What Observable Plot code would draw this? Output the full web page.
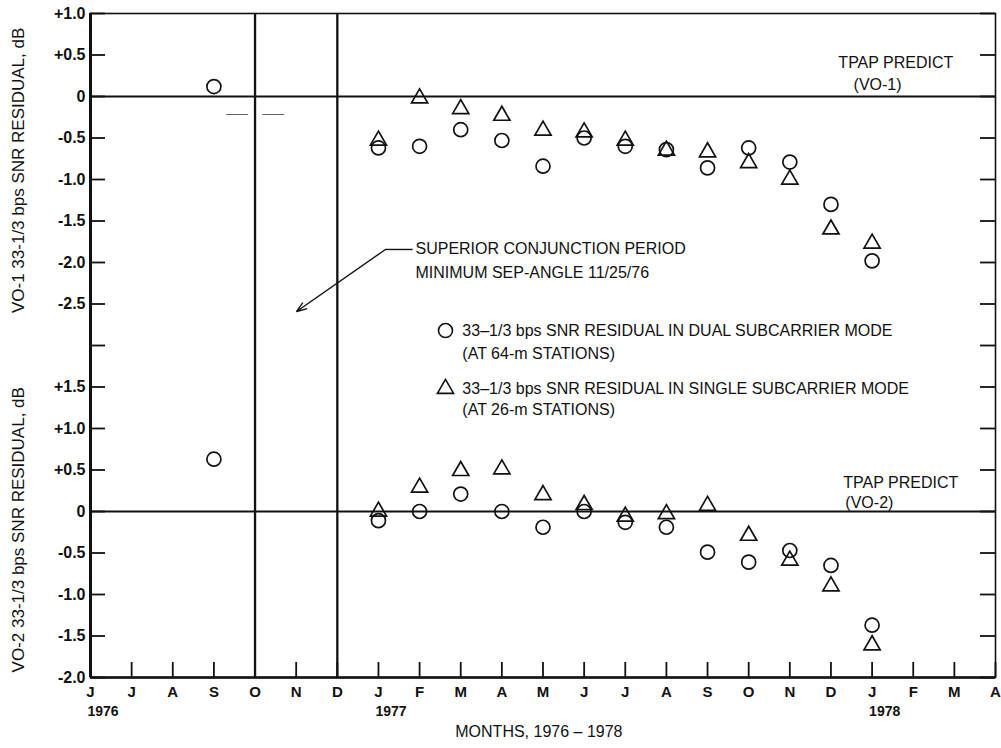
<!DOCTYPE html>
<html>
<head>
<meta charset="utf-8">
<script src="https://cdn.jsdelivr.net/npm/d3@7"></script>
<script src="https://cdn.jsdelivr.net/npm/@observablehq/plot@0.6"></script>
<style>
  html, body { margin: 0; padding: 0; background: #fff; }
  #chart svg { display: block; }
</style>
</head>
<body>
<div id="chart"></div>
<script>
// Month axis: index 0 = June 1976 ... index 22 = April 1978
const monthLetters = ["J","J","A","S","O","N","D","J","F","M","A","M","J","J","A","S","O","N","D","J","F","M","A"];
const yearLabels = ["1976", "1977", "1978"];
const yearStartMonth = [0, 7, 19];

// Superior conjunction period boundaries (October and December 1976)
const conjunctionBounds = [4, 6];

// VO-1 33-1/3 bps SNR residuals, dB
const vo1DualMonth = [3, 7, 8, 9, 10, 11, 12, 13, 14, 15, 16, 17, 18, 19];
const vo1Dual      = [0.12, -0.62, -0.60, -0.40, -0.53, -0.84, -0.50, -0.60, -0.64, -0.86, -0.62, -0.79, -1.30, -1.98];
const vo1SingleMonth = [7, 8, 9, 10, 11, 12, 13, 14, 15, 16, 17, 18, 19];
const vo1Single      = [-0.53, -0.02, -0.15, -0.23, -0.41, -0.43, -0.53, -0.65, -0.67, -0.80, -1.00, -1.60, -1.77];

// VO-2 33-1/3 bps SNR residuals, dB
const vo2DualMonth = [3, 7, 8, 9, 10, 11, 12, 13, 14, 15, 16, 17, 18, 19];
const vo2Dual      = [0.63, -0.11, 0.0, 0.21, 0.0, -0.19, 0.0, -0.13, -0.19, -0.49, -0.61, -0.47, -0.65, -1.37];
const vo2SingleMonth = [7, 8, 9, 10, 11, 12, 13, 14, 15, 16, 17, 18, 19];
const vo2Single      = [0.0, 0.29, 0.49, 0.51, 0.20, 0.08, -0.06, -0.03, 0.07, -0.29, -0.59, -0.90, -1.61];

// Vertical tick labels for each band
const vo1TickValues = [1.0, 0.5, 0, -0.5, -1.0, -1.5, -2.0, -2.5];
const vo1TickLabels = ["+1.0", "+0.5", "0", "-0.5", "-1.0", "-1.5", "-2.0", "-2.5"];
const vo2TickValues = [1.5, 1.0, 0.5, 0, -0.5, -1.0, -1.5, -2.0];
const vo2TickLabels = ["+1.5", "+1.0", "+0.5", "0", "-0.5", "-1.0", "-1.5", "-2.0"];
const spacerTick = -3.0;

// Text
const vo1Title = "VO-1 33-1/3 bps SNR RESIDUAL, dB";
const vo2Title = "VO-2 33-1/3 bps SNR RESIDUAL, dB";
const xTitle = "MONTHS, 1976 \u2013 1978";
const conjunctionNote = ["SUPERIOR CONJUNCTION PERIOD", "MINIMUM SEP-ANGLE 11/25/76"];
const predictNote = ["TPAP PREDICT", "(VO-1)", "(VO-2)"];
const legendText = [
  ["33\u20131/3 bps SNR RESIDUAL IN DUAL SUBCARRIER MODE", "(AT 64-m STATIONS)"],
  ["33\u20131/3 bps SNR RESIDUAL IN SINGLE SUBCARRIER MODE", "(AT 26-m STATIONS)"]
];

// Both vehicles share one vertical axis: the VO-2 band sits 5 dB below VO-1.
const vo2Offset = -5;
const toAxis = (v, panel) => panel === "VO-2" ? v + vo2Offset : v;

const rows = (months, values, panel, mode) =>
  months.map((m, i) => ({month: m, value: values[i], panel, mode}));
const points = [
  ...rows(vo1DualMonth, vo1Dual, "VO-1", "dual"),
  ...rows(vo1SingleMonth, vo1Single, "VO-1", "single"),
  ...rows(vo2DualMonth, vo2Dual, "VO-2", "dual"),
  ...rows(vo2SingleMonth, vo2Single, "VO-2", "single")
];

const yTicks = [
  ...vo1TickValues.map((v, i) => ({u: toAxis(v, "VO-1"), label: vo1TickLabels[i]})),
  {u: spacerTick, label: ""},
  ...vo2TickValues.map((v, i) => ({u: toAxis(v, "VO-2"), label: vo2TickLabels[i]}))
];
const yLabelOf = new Map(yTicks.map(t => [t.u, t.label]));
const yTickValues = yTicks.map(t => t.u);

const years = yearLabels.map((label, i) => ({month: yearStartMonth[i], label}));

const font = "'Liberation Sans', Arial, sans-serif";
const ink = "#111";
const monthSpan = 22;            // June 1976 .. April 1978
const tickReach = 0.365;         // inward tick length, in months (about 15 px)

const chart = Plot.plot({
  width: 1001,
  height: 748,
  marginLeft: 90,
  marginRight: 6,
  marginTop: 13,
  marginBottom: 71,
  style: {fontFamily: font, background: "#fff", color: ink},
  x: {domain: [0, monthSpan]},
  y: {domain: [-7, 1]},
  marks: [
    // plot frame, heavier along the two axes
    Plot.frame({stroke: ink, strokeWidth: 1.6}),
    Plot.ruleX([0], {stroke: ink, strokeWidth: 3}),
    Plot.ruleY([-7], {stroke: ink, strokeWidth: 2.6}),

    // superior conjunction period
    Plot.ruleX(conjunctionBounds, {stroke: ink, strokeWidth: 2.3}),

    // TPAP predicted levels (0 dB residual) for each vehicle
    Plot.ruleY([toAxis(0, "VO-1"), toAxis(0, "VO-2")], {stroke: ink, strokeWidth: 2}),
    Plot.ruleY([-0.217], {x1: 3.31, x2: 4.82, stroke: "#666", strokeWidth: 1, strokeDasharray: "22 14"}),

    // inward ticks on the left and right edges
    Plot.ruleY(yTickValues, {x1: 0, x2: tickReach, stroke: ink, strokeWidth: 1.8}),
    Plot.ruleY(yTickValues, {x1: monthSpan - tickReach, x2: monthSpan, stroke: ink, strokeWidth: 1.8}),

    // axes
    Plot.axisY(yTickValues, {
      anchor: "left", tickSize: 0, tickPadding: 5,
      tickFormat: d => yLabelOf.get(d), fontSize: 16, fontWeight: "bold", label: null
    }),
    Plot.axisX(d3.range(monthLetters.length), {
      anchor: "bottom", tickSize: -15, tickPadding: 24, strokeWidth: 1.8,
      tickFormat: i => monthLetters[i], fontSize: 15, fontWeight: "bold", label: null
    }),
    Plot.text(years, {x: "month", text: "label", frameAnchor: "bottom", dy: 38, dx: -3, textAnchor: "start", fontSize: 14, fontWeight: "bold"}),
    Plot.text([xTitle], {x: 10.9, frameAnchor: "bottom", dy: 59, text: d => d, fontSize: 16}),

    // vertical titles for the two bands
    Plot.text([{u: -0.89, label: vo1Title}, {u: -5.22, label: vo2Title}], {
      y: "u", text: "label", frameAnchor: "left", textAnchor: "middle", dx: -72, rotate: -90, fontSize: 17
    }),

    // residual measurements
    Plot.dot(points.filter(d => d.mode === "dual"), {
      x: "month", y: d => toAxis(d.value, d.panel), r: 7, fill: "none", stroke: ink, strokeWidth: 1.7
    }),
    Plot.dot(points.filter(d => d.mode === "single"), {
      x: "month", y: d => toAxis(d.value, d.panel), symbol: "triangle", r: 6, fill: "none", stroke: ink, strokeWidth: 1.7
    }),

    // TPAP predict labels
    Plot.text([predictNote[0], predictNote[1]], {
      x: [18.18, 18.55], y: [0.40, 0.145], text: d => d, textAnchor: "start", fontSize: 16
    }),
    Plot.text([predictNote[0], predictNote[2]], {
      x: [18.3, 18.35], y: [-4.66, -4.90], text: d => d, textAnchor: "start", fontSize: 16
    }),

    // superior conjunction callout
    Plot.text(conjunctionNote, {
      x: 7.9, y: [-1.83, -2.13], text: d => d, textAnchor: "start", fontSize: 16
    }),
    Plot.link([0], {x1: 7.83, y1: -1.843, x2: 7.17, y2: -1.843, stroke: ink, strokeWidth: 1.4}),
    Plot.arrow([0], {x1: 7.17, y1: -1.843, x2: 5.01, y2: -2.59, stroke: ink, strokeWidth: 1.4, headLength: 11, headAngle: 40}),

    // legend
    Plot.dot([0], {x: 8.63, y: -2.82, r: 7, fill: "none", stroke: ink, strokeWidth: 1.6}),
    Plot.dot([0], {x: 8.63, y: -3.52, symbol: "triangle", r: 6, fill: "none", stroke: ink, strokeWidth: 1.6}),
    Plot.text(legendText.flat(), {
      x: 9.04, y: [-2.82, -3.10, -3.52, -3.78], text: d => d, textAnchor: "start", fontSize: 16
    })
  ]
});

document.getElementById("chart").append(chart);
</script>
</body>
</html>
